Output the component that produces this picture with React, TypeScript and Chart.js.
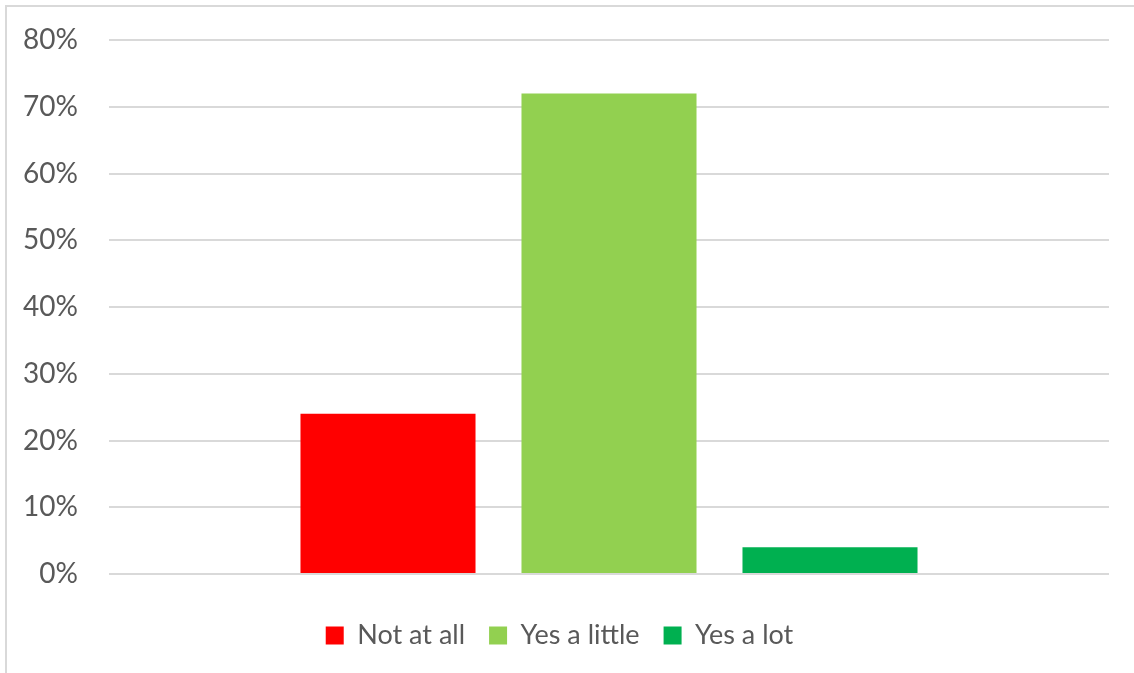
import React, { useEffect, useRef } from "react";
import { Chart, registerables } from "chart.js";

Chart.register(...registerables);

const categories: string[] = [""];
const seriesNames: string[] = ["Not at all", "Yes a little", "Yes a lot"];
const notAtAll: number[] = [0.24];
const yesALittle: number[] = [0.72];
const yesALot: number[] = [0.04];
const seriesColors: string[] = ["#FF0000", "#92D050", "#00B050"];
const yMin = 0;
const yMax = 0.8;
const yStep = 0.1;

export default function App() {
  const ref = useRef<HTMLCanvasElement | null>(null);

  useEffect(() => {
    if (!ref.current) return;
    const seriesValues = [notAtAll, yesALittle, yesALot];
    const chart = new Chart(ref.current, {
      type: "bar",
      data: {
        labels: categories,
        datasets: seriesNames.map((name, i) => ({
          label: name,
          data: seriesValues[i],
          backgroundColor: seriesColors[i],
          borderWidth: 0,
          categoryPercentage: 0.663,
          barPercentage: 0.792,
        })),
      },
      options: {
        animation: false,
        responsive: false,
        maintainAspectRatio: false,
        layout: { padding: { top: 40, left: 10, right: 25, bottom: 14 } },
        plugins: {
          tooltip: { enabled: false },
          legend: {
            position: "bottom",
            labels: {
              boxWidth: 18,
              boxHeight: 18,
              padding: 24,
              color: "#595959",
              font: { family: "Lato", size: 27 },
            },
          },
        },
        scales: {
          x: {
            display: true,
            grid: { display: false },
            border: { display: false },
            ticks: { display: false },
            afterFit: (scale: any) => {
              scale.height = 24;
              scale.paddingLeft = 0;
              scale.paddingRight = 0;
            },
          },
          y: {
            min: yMin,
            max: yMax,
            border: { display: false },
            grid: { color: "#d9d9d9", lineWidth: 2, drawTicks: false },
            afterFit: (scale: any) => {
              scale.width = 99;
              scale.paddingTop = 0;
              scale.paddingBottom = 0;
            },
            ticks: {
              stepSize: yStep,
              padding: 31,
              color: "#595959",
              font: { family: "Lato", size: 28 },
              callback: (v: any) => Math.round(Number(v) * 100) + "%",
            },
          },
        },
      },
    });
    return () => chart.destroy();
  }, []);

  return (
    <div
      style={{
        position: "absolute",
        left: 0,
        top: 0,
        width: 1134,
        height: 673,
        overflow: "hidden",
        background: "#ffffff",
      }}
    >
      <canvas ref={ref} width={1134} height={673} style={{ position: "absolute", left: 0, top: 0 }} />
      <div
        style={{
          position: "absolute",
          left: 5,
          top: 5,
          width: 1200,
          height: 760,
          border: "2px solid #d9d9d9",
          pointerEvents: "none",
        }}
      />
    </div>
  );
}
